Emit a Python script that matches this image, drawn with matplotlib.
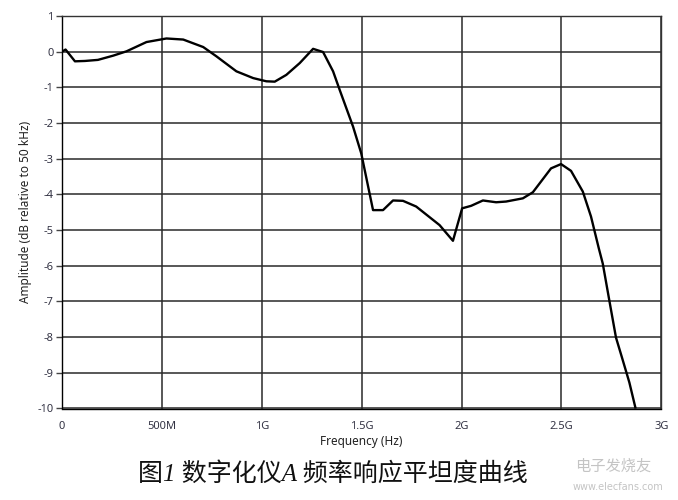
import matplotlib
matplotlib.use("Agg")
import matplotlib.pyplot as plt

# Frequency in GHz, amplitude in dB
freq_ghz = [0.0, 0.018, 0.065, 0.115, 0.18, 0.257, 0.323, 0.423, 0.523, 0.607,
            0.707, 0.773, 0.873, 0.957, 1.023, 1.065, 1.123, 1.19, 1.257, 1.307,
            1.357, 1.39, 1.457, 1.498, 1.557, 1.607, 1.657, 1.707, 1.773, 1.89,
            1.957, 2.003, 2.048, 2.107, 2.173, 2.223, 2.307, 2.357, 2.448, 2.498,
            2.548, 2.607, 2.648, 2.687, 2.707, 2.74, 2.773, 2.803, 2.84, 2.87]
amp_db = [0.0, 0.06, -0.27, -0.26, -0.23, -0.11, 0.01, 0.27, 0.37, 0.34,
          0.13, -0.13, -0.55, -0.74, -0.83, -0.84, -0.65, -0.32, 0.08, -0.01,
          -0.55, -1.07, -2.10, -2.85, -4.44, -4.44, -4.17, -4.18, -4.34, -4.86,
          -5.30, -4.39, -4.32, -4.17, -4.22, -4.20, -4.11, -3.94, -3.27, -3.15,
          -3.34, -3.92, -4.62, -5.51, -5.94, -6.98, -8.01, -8.57, -9.27, -9.97]

x_ticks = [0, 0.5, 1.0, 1.5, 2.0, 2.5, 3.0]
x_tick_labels = ["0", "500M", "1G", "1.5G", "2G", "2.5G", "3G"]
y_ticks = list(range(1, -11, -1))
y_tick_labels = [str(v) for v in y_ticks]

x_label = "Frequency (Hz)"
y_label = "Amplitude (dB relative to 50 kHz)"
caption = "图1 数字化仪A 频率响应平坦度曲线"

fig = plt.figure(figsize=(6.78, 5.0), dpi=100)
ax = fig.add_axes([0.0914, 0.183, 0.884, 0.785])

ax.plot(freq_ghz, amp_db, color="black", lw=1.7, solid_joinstyle="round")
ax.set_xlim(0, 3.0)
ax.set_ylim(-10, 1)
ax.set_xticks(x_ticks)
ax.set_xticklabels(x_tick_labels)
ax.set_yticks(y_ticks)
ax.set_yticklabels(y_tick_labels)
ax.grid(True, color="#2a2a2a", lw=1.1)
ax.set_axisbelow(True)

for s in ax.spines.values():
    s.set_color("#333333")
    s.set_linewidth(1.0)
ax.spines["left"].set_color("black")
ax.spines["bottom"].set_color("black")

ax.tick_params(axis="y", length=4, width=1, color="#444444", pad=2,
               labelsize=8, labelcolor="#333344")
ax.tick_params(axis="x", length=0, pad=9, labelsize=8, labelcolor="#333344")
for lab in ax.get_xticklabels() + ax.get_yticklabels():
    lab.set_family("Noto Sans")

ax.set_xlabel(x_label, fontsize=8.5, family="Noto Sans", color="#222222", labelpad=2)
ax.set_ylabel(y_label, fontsize=8.5, family="Noto Sans", color="#222222", labelpad=4)

fig.text(0.491, 0.053, caption, fontsize=18, style="italic",
         family=["Liberation Serif", "Noto Sans CJK SC"], color="#111111",
         ha="center", va="center")

# watermark
fig.text(0.905, 0.068, "电子发烧友", fontsize=11, family=["Noto Sans CJK SC"],
         color="#c4c4c4", ha="center", va="center")
fig.text(0.912, 0.027, "www.elecfans.com", fontsize=7, family="DejaVu Sans",
         color="#c4c4c4", ha="center", va="center")

fig.savefig("out.png", dpi=100)
